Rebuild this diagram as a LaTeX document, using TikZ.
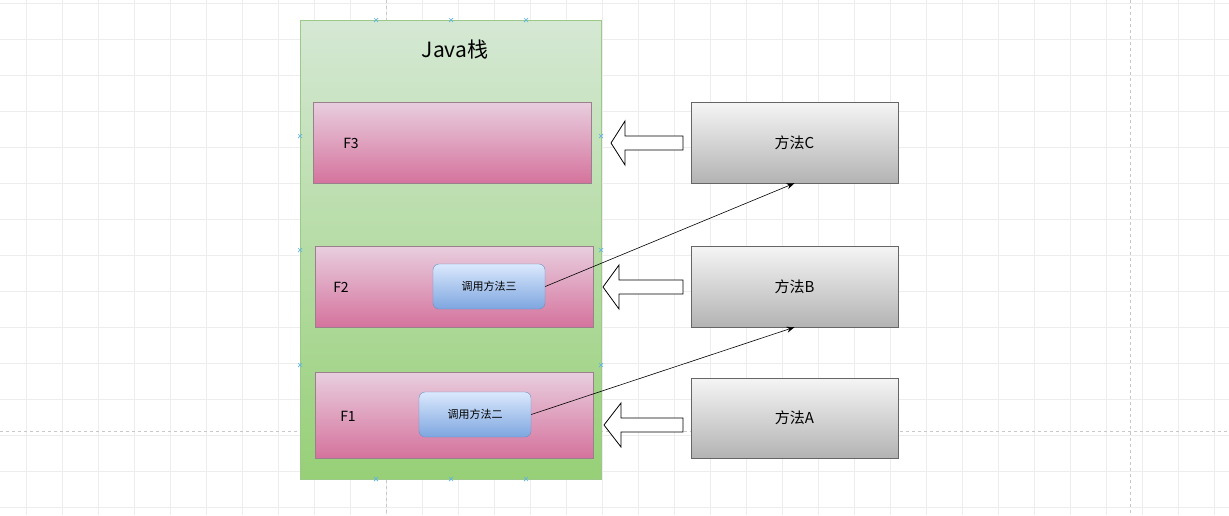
\documentclass[tikz,border=0pt]{standalone}
\usepackage{fontspec}
\setmainfont{Noto Sans CJK SC}
\usetikzlibrary{positioning, arrows.meta}

\definecolor{gridgray}{HTML}{EDEDED}
\definecolor{breakgray}{HTML}{C8C8C8}
\definecolor{stacktop}{HTML}{D5E8D4}
\definecolor{stackbot}{HTML}{97D077}
\definecolor{stackline}{HTML}{9CC98A}
\definecolor{frametop}{HTML}{E8CEDF}
\definecolor{framebot}{HTML}{D5739D}
\definecolor{frameline}{HTML}{9A7F8C}
\definecolor{calltop}{HTML}{DAE8FC}
\definecolor{callbot}{HTML}{7EA6E0}
\definecolor{callline}{HTML}{6C8EBF}
\definecolor{methtop}{HTML}{F5F5F5}
\definecolor{methbot}{HTML}{B3B3B3}
\definecolor{handle}{HTML}{5DB4E3}

\begin{document}
\begin{tikzpicture}[x=1pt, y=-1pt,
	stack/.style={draw=stackline, top color=stacktop, bottom color=stackbot, inner sep=0, anchor=north west, minimum width=301, minimum height=459},
	frame/.style={draw=frameline, top color=frametop, bottom color=framebot, inner sep=0, anchor=north west, minimum width=278},
	callbox/.style={draw=callline, top color=calltop, bottom color=callbot, rounded corners=6, inner sep=0, minimum width=112, minimum height=45, font=\fontsize{11}{13}\selectfont},
	method/.style={draw=black!60, top color=methtop, bottom color=methbot, inner sep=0, minimum width=207, font=\fontsize{15}{18}\selectfont},
	blockarrow/.style={draw=black, fill=white, line width=0.8, line join=miter},
	link/.style={-{Stealth[length=8, width=6]}, line width=0.6}]
	\useasboundingbox (0,0) rectangle (1229,515);

	% background grid and page breaks
	\foreach \gx in {26,62,...,1229} \draw[gridgray] (\gx,0) -- (\gx,515);
	\foreach \gy in {3,39,...,515} \draw[gridgray] (0,\gy) -- (1229,\gy);
	\draw[breakgray, dashed] (386,0) -- (386,515);
	\draw[breakgray, dashed] (1130,0) -- (1130,515);
	\draw[breakgray, dashed] (0,431) -- (1229,431);

	% the stack
	\node[stack] (stack) at (300,20) {};
	\node[font=\fontsize{21}{25}\selectfont] (title) at (455,50) {Java栈};

	\node[frame, minimum height=81] (f3) at (313,102) {};
	\node[frame, minimum height=81] (f2) at (315,246) {};
	\node[frame, minimum height=86] (f1) at (315,372) {};
	\node[font=\fontsize{14}{17}\selectfont] (f3l) at (351,143) {F3};
	\node[font=\fontsize{14}{17}\selectfont] (f2l) at (341,287) {F2};
	\node[font=\fontsize{14}{17}\selectfont] (f1l) at (348,416) {F1};

	\node[callbox] (call3) at (489,286.5) {调用方法三};
	\node[callbox] (call2) at (475,414.5) {调用方法二};

	% the methods
	\node[method, minimum height=81] (mC) at (794.5,142.5) {方法C};
	\node[method, minimum height=81] (mB) at (794.5,286.5) {方法B};
	\node[method, minimum height=80] (mA) at (794.5,418) {方法A};

	\foreach \tx/\ty/\bx in {611/143/625, 603/287/619, 604/425/621}
		\draw[blockarrow] (\tx,\ty) -- (\bx,\ty-22) -- (\bx,\ty-7) -- (683,\ty-7) -- (683,\ty+7) -- (\bx,\ty+7) -- (\bx,\ty+22) -- cycle;

	\draw[link] (call3.east) -- (mC.south);
	\draw[link] (call2.east) -- (mB.south);

	% selection handles
	\foreach \hx/\hy in {376/20, 451/20, 526/20, 376/479, 451/479, 526/479, 300/136, 300/250, 300/365, 601/136, 601/250, 601/365}
		\draw[handle, line width=0.7] (\hx-2,\hy-2) -- (\hx+2,\hy+2) (\hx-2,\hy+2) -- (\hx+2,\hy-2);
\end{tikzpicture}
\end{document}
